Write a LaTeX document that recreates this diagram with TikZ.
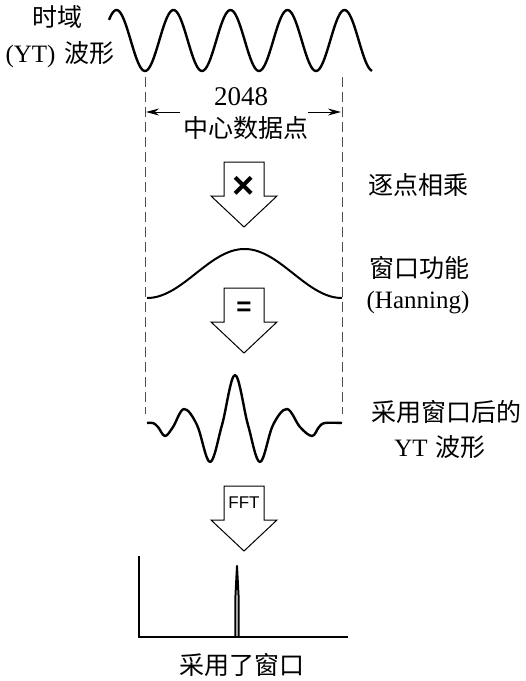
\documentclass[tikz,border=0pt]{standalone}
\usepackage{fontspec}
\setmainfont{Liberation Serif}
\newfontfamily\cjk{Noto Sans CJK SC}
\newfontfamily\sans{Liberation Sans}
\usetikzlibrary{arrows.meta}

\tikzset{
  wave/.style={line width=2.4pt, line join=round},
  guide/.style={line width=0.8pt, dash pattern=on 10pt off 5pt, black!70},
  bigarrow/.style={line width=1pt, fill=white, line join=miter},
  dimarrow/.style={line width=1pt, -{Stealth[length=13pt,width=7pt]}},
  axisline/.style={line width=1.4pt},
  lbl/.style={font=\fontsize{25}{30}\selectfont, inner sep=0pt},
}

\begin{document}
\begin{tikzpicture}[x=1pt, y=-1pt]
    \useasboundingbox (0,0) rectangle (526,681);

    % time domain signal
    \draw[wave] plot[domain=109:372, samples=200, variable=\x] (\x, {40.5-30.5*cos((\x-116.5)/57*360)});
    \node[lbl] (ytTop) at (57,17) {\cjk 时域};
    \node[lbl] (ytBot) at (60,55) {(YT)\hspace{9pt}{\cjk 波形}};

    % guide lines
    \foreach \gx/\nm in {145/L, 342/R} {
        \coordinate (top\nm) at (\gx,77);
        \coordinate (bot\nm) at (\gx,414);
        \draw[guide] (top\nm) -- (bot\nm);
    }

    % 2048 points
    \node[lbl, font=\fontsize{27}{30}\selectfont] (npts) at (241,97) {2048};
    \node[lbl] (center) at (246,128) {\cjk 中心数据点};
    \coordinate (dimL) at (146,112);
    \coordinate (dimLs) at (180,112);
    \coordinate (dimR) at (341,112);
    \coordinate (dimRs) at (308,112);
    \draw[dimarrow] (dimLs) -- (dimL);
    \draw[dimarrow] (dimRs) -- (dimR);

    % block arrows
    \foreach \yt/\ly/\lab/\nm in {162/187/{\sans\bfseries\fontsize{38}{38}\selectfont ×}/mul,
                                  288/309/{\sans\bfseries\fontsize{26}{26}\selectfont =}/eq,
                                  486/503/{\sans\fontsize{17}{17}\selectfont FFT}/fft} {
        \draw[bigarrow] (224,\yt) -- (264,\yt) -- (264,\yt+34) -- (277,\yt+34)
            -- (244,\yt+65) -- (211,\yt+34) -- (224,\yt+34) -- cycle;
        \node[inner sep=0pt] (\nm) at (244,\ly) {\lab};
    }
    \node[lbl] (multxt) at (418,185) {\cjk 逐点相乘};

    % window function
    \draw[wave, line width=2pt] plot[domain=147:342, samples=150, variable=\x] (\x, {298-24.5*(1+cos((\x-244.5)/195*360))});
    \node[lbl] (wintxt) at (419,268) {\cjk 窗口功能};
    \node[lbl] (hann) at (418,303) {(Hanning)};

    % windowed signal
    \draw[wave] plot[smooth, tension=0.6] coordinates {(147,423) (153,423) (158,427) (165,436) (173,427)
        (184,409) (197,425) (210,462) (222,425) (235,375) (248,425) (260,462) (273,425)
        (287,409) (300,427) (312,436) (319,427) (325,423) (342,423)};
    \node[lbl] (wtxt) at (446,412) {\cjk 采用窗口后的};
    \node[lbl] (wtxt2) at (440,447) {YT\hspace{8pt}{\cjk 波形}};

    % spectrum
    \coordinate (yEnd) at (139,556);
    \coordinate (orig) at (139,637);
    \coordinate (xEnd) at (348,637);
    \draw[axisline] (yEnd) -- (orig) -- (xEnd);
    \draw[line width=2pt, line join=round] (235.3,637) -- (235.5,595) -- (237,566) -- (238.5,595) -- (238.7,637);
    \node[lbl] (spec) at (242,665) {\cjk 采用了窗口};
\end{tikzpicture}
\end{document}
